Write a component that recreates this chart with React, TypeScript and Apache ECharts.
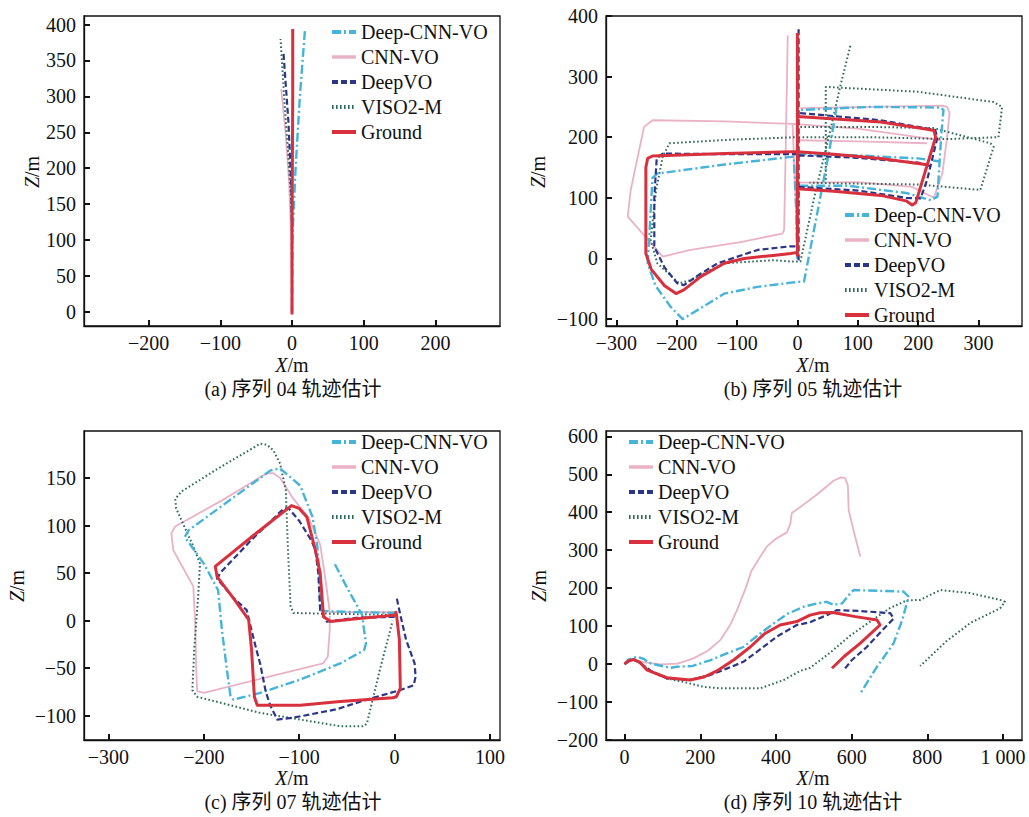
import React, { useEffect, useRef } from 'react';
import * as echarts from 'echarts';

type Pt = [number, number];
type Seg = Pt[];

const SERIES_NAMES = ['Deep-CNN-VO', 'CNN-VO', 'DeepVO', 'VISO2-M', 'Ground'];
const CAPTIONS = ['(a) 序列 04 轨迹估计', '(b) 序列 05 轨迹估计', '(c) 序列 07 轨迹估计', '(d) 序列 10 轨迹估计'];

// tick values
const xTicks04 = [-200, -100, 0, 100, 200];
const yTicks04 = [0, 50, 100, 150, 200, 250, 300, 350, 400];
const xTicks05 = [-300, -200, -100, 0, 100, 200, 300];
const yTicks05 = [-100, 0, 100, 200, 300, 400];
const xTicks07 = [-300, -200, -100, 0, 100];
const yTicks07 = [-100, -50, 0, 50, 100, 150];
const xTicks10 = [0, 200, 400, 600, 800, 1000];
const yTicks10 = [-200, -100, 0, 100, 200, 300, 400, 500, 600];

// ---------- sequence 04 ----------
const deepCnn04: Seg[] = [[[0, 0], [0.5, 100], [2, 135], [5, 200], [11, 300], [18, 392]]];
const cnnVo04: Seg[] = [[[0, 0], [-1, 100], [-4, 180], [-9, 250], [-15, 310]]];
const deepVo04: Seg[] = [[[0, 0], [0, 110], [-1, 175], [-5, 265], [-12, 362]]];
const viso04: Seg[] = [[[0, 0], [0, 120], [-1, 150], [-6, 230], [-11, 300], [-16, 380]]];
const ground04: Seg[] = [[[0, -4], [0, 100], [0.5, 200], [1, 300], [1, 394]]];

// ---------- sequence 05 ----------
const deepCnn05: Seg[] = [
  [[0, 0], [-2, 80], [-6, 168], [-120, 155], [-232, 140], [-240, 133], [-244, 60], [-248, -8], [-235, -45], [-210, -80], [-190, -100], [-160, -82], [-121, -58], [-66, -47], [-11, -40], [11, -38], [30, 60], [52, 173], [65, 250]],
  [[3, 120], [83, 120], [180, 108], [221, 96], [232, 102], [238, 200], [242, 245], [237, 249], [120, 250], [5, 245]],
  [[0, 172], [100, 170], [200, 165], [236, 160]],
];
const cnnVo05: Seg[] = [
  [[0, 0], [-3, 100], [-8, 222], [-120, 226], [-240, 228], [-254, 217], [-276, 113], [-281, 69], [-223, 3], [-177, 14], [-94, 27], [-25, 41], [-22, 47], [-19, 200], [-16, 368]],
  [[-8, 222], [100, 214], [200, 200], [238, 195]],
  [[0, 125], [100, 126], [190, 118], [226, 100], [240, 140], [248, 200], [252, 240], [248, 250], [240, 252], [120, 250], [5, 248]],
  [[0, 195], [100, 193], [215, 190]],
];
const deepVo05: Seg[] = [
  [[2, -3], [2, 382]],
  [[1, 172], [-120, 172], [-223, 173], [-233, 165], [-237, 100], [-237, 19], [-220, -15], [-199, -41], [-188, -44], [-160, -25], [-132, -8], [-66, 14], [-11, 20], [0, 20]],
  [[2, 118], [100, 112], [180, 100], [204, 99], [215, 130], [232, 200], [228, 212], [138, 228], [2, 240]],
  [[2, 170], [100, 166], [200, 158], [224, 151]],
];
const viso05: Seg[] = [
  [[0, 0], [2, 100], [0, 200], [-110, 196], [-212, 190], [-223, 168], [-234, 113], [-243, 30], [-232, -8], [-196, -41], [-177, -36], [-121, -8], [-39, -3], [-11, -5], [5, -5], [30, 110], [52, 200], [70, 280], [88, 352]],
  [[47, 130], [47, 283], [200, 275], [325, 258], [339, 250], [333, 200], [250, 197], [120, 200], [0, 200]],
  [[5, 217], [120, 217], [225, 215], [320, 190], [325, 184], [303, 113], [200, 122], [60, 124], [20, 125]],
];
const ground05: Seg[] = [
  [[0, 3], [0, 372]],
  [[0, 176], [-11, 176], [-120, 173], [-240, 169], [-248, 165], [-251, 150], [-251, 8], [-242, -18], [-220, -45], [-201, -58], [-188, -52], [-160, -30], [-121, -8], [-88, 0], [-40, 5], [-11, 8], [0, 10]],
  [[0, 115], [60, 111], [138, 104], [180, 95], [190, 88], [196, 92], [229, 200], [226, 211], [215, 213], [138, 225], [0, 234]],
  [[0, 176], [60, 172], [138, 165], [218, 154]],
];

// ---------- sequence 07 ----------
const deepCnn07: Seg[] = [[[2, 8], [-40, 9], [-74, 10], [-78, 11], [-79, 50], [-81, 78], [-86, 109], [-99, 142], [-120, 160], [-130, 158], [-175, 125], [-216, 95], [-220, 88], [-200, 60], [-185, 32], [-181, -10], [-176, -50], [-172, -80], [-169, -83], [-141, -76], [-99, -62], [-57, -45], [-32, -31], [-30, -24], [-32, -10], [-34, 6], [-50, 35], [-64, 62]]];
const cnnVo07: Seg[] = [[[2, 9], [-40, 9], [-68, 9], [-72, 40], [-78, 80], [-90, 108], [-106, 128], [-120, 150], [-127, 155], [-134, 155], [-180, 127], [-230, 99], [-234, 92], [-232, 74], [-211, 36], [-209, -3], [-208, -50], [-207, -74], [-200, -76], [-140, -61], [-75, -45], [-70, -38], [-68, -10], [-68, 5]]];
const deepVo07: Seg[] = [[[0, 4], [-40, 3], [-71, -1], [-78, 11], [-80, 50], [-83, 74], [-87, 84], [-100, 105], [-111, 118], [-116, 118], [-150, 85], [-183, 50], [-186, 44], [-170, 25], [-155, 11], [-151, -6], [-145, -30], [-141, -45], [-135, -75], [-130, -90], [-123, -104], [-106, -102], [-60, -93], [-29, -83], [6, -73], [20, -68], [22, -59], [21, -45], [12, -20], [6, 6], [2, 25]]];
const viso07: Seg[] = [[[0, 6], [-50, 7], [-106, 8], [-109, 15], [-112, 80], [-114, 137], [-120, 165], [-127, 179], [-134, 185], [-141, 186], [-185, 160], [-223, 136], [-230, 128], [-229, 118], [-211, 78], [-204, 60], [-206, 25], [-210, -30], [-212, -73], [-207, -80], [-141, -97], [-57, -111], [-32, -111], [-29, -108], [-15, -50], [-2, 0]]];
const ground07: Seg[] = [[[2, 6], [-40, 2], [-67, -1], [-74.5, 4], [-78, 50], [-83, 74], [-92, 109], [-100, 118], [-108, 121], [-150, 88], [-188, 57], [-186, 46], [-170, 25], [-153, 1], [-150, -30], [-147, -80], [-144, -89], [-99, -89], [-57, -85], [-2, -81], [2, -80], [6, -71], [5, -20], [2, 6], [1, 10]]];

// ---------- sequence 10 ----------
const deepCnn10: Seg[] = [[[0, 0], [10, 12], [33, 19], [50, 14], [68, 2], [120, -10], [138, -7], [180, -5], [226, 10], [270, 28], [314, 45], [355, 78], [394, 107], [430, 132], [473, 151], [510, 160], [534, 164], [552, 156], [575, 160], [596, 186], [605, 195], [670, 193], [737, 191], [750, 178], [735, 120], [711, 55], [665, -10], [623, -77]]];
const cnnVo10: Seg[] = [[[0, 0], [20, 12], [50, 5], [94, -1], [140, 1], [182, 15], [220, 35], [253, 63], [280, 105], [297, 142], [320, 200], [335, 245], [358, 282], [376, 310], [400, 330], [429, 347], [438, 370], [442, 398], [470, 418], [510, 448], [552, 483], [572, 492], [583, 490], [590, 470], [592, 406], [608, 340], [623, 283]]];
const deepVo10: Seg[] = [[[0, 0], [10, 8], [24, 12], [45, 0], [70, -18], [112, -38], [173, -42], [226, -29], [270, -12], [314, 6], [360, 40], [402, 72], [455, 103], [490, 110], [508, 118], [537, 130], [560, 142], [620, 140], [702, 134], [711, 120], [680, 88], [640, 45], [600, 10], [579, -16]]];
const viso10: Seg[] = [[[0, 0], [10, 8], [24, 12], [45, 0], [70, -20], [112, -38], [156, -47], [209, -60], [253, -64], [314, -64], [358, -64], [420, -42], [464, -18], [490, -10], [543, 30], [596, 75], [649, 112], [702, 148], [746, 168], [781, 169], [834, 195], [913, 187], [992, 169], [1005, 164], [992, 147], [913, 108], [878, 81], [850, 60], [781, -5]]];
const ground10: Seg[] = [[[0, 0], [10, 8], [24, 12], [40, 5], [60, -16], [112, -36], [173, -42], [210, -34], [244, -18], [290, 12], [332, 45], [370, 80], [411, 103], [455, 112], [490, 129], [517, 135], [550, 136], [610, 125], [667, 116], [675, 103], [623, 55], [580, 20], [548, -11]]];

// ---------- layout / style (not data) ----------
const SERIF = "'Liberation Serif', 'Times New Roman', 'Noto Sans CJK SC', serif";
const STYLES: Record<string, any> = {
  'Deep-CNN-VO': { color: '#46b4d8', width: 2.4, type: [9, 3, 2, 3] },
  'CNN-VO': { color: '#eab2c6', width: 1.8, type: 'solid' },
  'DeepVO': { color: '#2c3688', width: 2.2, type: [6, 3] },
  'VISO2-M': { color: '#2f6b59', width: 2, type: [1.6, 2.4] },
  'Ground': { color: '#d8303c', width: 3, type: 'solid' },
};
const DRAW_ORDER = ['CNN-VO', 'VISO2-M', 'Deep-CNN-VO', 'DeepVO', 'Ground'];

const PANELS = [
  {
    grid: { left: 84, top: 16, width: 416, height: 310 },
    x: [-290, 290], y: [-20, 412], xt: xTicks04, yt: yTicks04,
    data: { 'Deep-CNN-VO': deepCnn04, 'CNN-VO': cnnVo04, 'DeepVO': deepVo04, 'VISO2-M': viso04, 'Ground': ground04 },
    legend: { left: 330, top: 22 }, zName: [32, 172], xName: [292, 365], cap: [293, 389],
  },
  {
    grid: { left: 606, top: 16, width: 416, height: 310 },
    x: [-317, 372], y: [-111.5, 400], xt: xTicks05, yt: yTicks05,
    data: { 'Deep-CNN-VO': deepCnn05, 'CNN-VO': cnnVo05, 'DeepVO': deepVo05, 'VISO2-M': viso05, 'Ground': ground05 },
    legend: { left: 843, top: 205 }, zName: [538, 172], xName: [813, 365], cap: [813, 389],
  },
  {
    grid: { left: 84, top: 431, width: 416, height: 309 },
    x: [-325.6, 110.5], y: [-125.5, 199.4], xt: xTicks07, yt: yTicks07,
    data: { 'Deep-CNN-VO': deepCnn07, 'CNN-VO': cnnVo07, 'DeepVO': deepVo07, 'VISO2-M': viso07, 'Ground': ground07 },
    legend: { left: 330, top: 432 }, zName: [17, 586], xName: [292, 778], cap: [293, 802],
  },
  {
    grid: { left: 606, top: 431, width: 416, height: 309 },
    x: [-49, 1050], y: [-200, 614], xt: xTicks10, yt: yTicks10,
    data: { 'Deep-CNN-VO': deepCnn10, 'CNN-VO': cnnVo10, 'DeepVO': deepVo10, 'VISO2-M': viso10, 'Ground': ground10 },
    legend: { left: 627, top: 432 }, zName: [539, 586], xName: [813, 778], cap: [813, 802],
  },
];

const fmt = (v: number) => (v === 1000 ? '1 000' : v < 0 ? '\u2212' + Math.abs(v) : String(v));

const flat = (segs: Seg[]) => {
  const out: any[] = [];
  segs.forEach((s, i) => {
    if (i > 0) out.push(['-', '-']);
    s.forEach((p) => out.push([p[0], p[1]]));
  });
  return out;
};

function buildOption() {
  const grid: any[] = [];
  const xAxis: any[] = [];
  const yAxis: any[] = [];
  const series: any[] = [];
  const legend: any[] = [];
  const graphic: any[] = [];
  const labelStyle = { fontFamily: SERIF, fontSize: 20, color: '#111' };
  const tick = (vals: number[]) => ({
    show: true, inside: true, length: 6, customValues: vals, lineStyle: { color: '#111', width: 2 },
  });

  PANELS.forEach((p, i) => {
    grid.push({ ...p.grid, show: true, borderColor: '#111', borderWidth: 1.3, backgroundColor: 'transparent' });
    xAxis.push({
      type: 'value', gridIndex: i, min: p.x[0], max: p.x[1], position: 'bottom',
      axisLine: { show: true, onZero: false, lineStyle: { color: '#111', width: 1.3 } }, splitLine: { show: false },
      axisTick: tick(p.xt),
      axisLabel: { ...labelStyle, margin: 7, customValues: p.xt, formatter: fmt },
    });
    yAxis.push({
      type: 'value', gridIndex: i, min: p.y[0], max: p.y[1], position: 'left',
      axisLine: { show: true, onZero: false, lineStyle: { color: '#111', width: 1.3 } }, splitLine: { show: false },
      axisTick: tick(p.yt),
      axisLabel: { ...labelStyle, margin: 8, customValues: p.yt, formatter: fmt },
    });
    DRAW_ORDER.forEach((name) => {
      const st = STYLES[name];
      series.push({
        type: 'line', name, xAxisIndex: i, yAxisIndex: i,
        data: flat((p.data as any)[name]),
        symbol: 'none', showSymbol: false, connectNulls: false, smooth: false,
        lineStyle: { color: st.color, width: st.width, type: st.type, cap: 'butt', join: 'round' },
        itemStyle: { color: st.color },
        emphasis: { disabled: true },
      });
    });
    legend.push({
      orient: 'vertical', left: p.legend.left, top: p.legend.top, padding: 0,
      itemWidth: 24, itemHeight: 10, itemGap: 5, selectedMode: false,
      itemStyle: { opacity: 0, color: 'transparent', borderWidth: 0 },
      textStyle: { fontFamily: SERIF, fontSize: 20, color: '#111', lineHeight: 20 },
      data: SERIES_NAMES.map((n) => ({
        name: n,
        itemStyle: { opacity: 0, color: 'transparent', borderWidth: 0 },
        lineStyle: { width: n === 'CNN-VO' ? 3.5 : 4, color: STYLES[n].color, type: STYLES[n].type, opacity: 1 },
      })),
    });
    graphic.push({
      type: 'text', x: p.zName[0], y: p.zName[1], rotation: Math.PI / 2,
      style: {
        text: '{i|Z}/m', fill: '#111', fontFamily: SERIF, fontSize: 20, align: 'center', verticalAlign: 'middle',
        rich: { i: { fontStyle: 'italic', fontFamily: SERIF, fontSize: 20, fill: '#111' } },
      },
    });
    graphic.push({
      type: 'text', x: p.xName[0], y: p.xName[1],
      style: {
        text: '{i|X}/m', fill: '#111', fontFamily: SERIF, fontSize: 20, align: 'center', verticalAlign: 'middle',
        rich: { i: { fontStyle: 'italic', fontFamily: SERIF, fontSize: 20, fill: '#111' } },
      },
    });
    graphic.push({
      type: 'text', x: p.cap[0], y: p.cap[1],
      style: { text: CAPTIONS[i], fill: '#111', fontFamily: SERIF, fontSize: 20, align: 'center', verticalAlign: 'middle' },
    });
  });

  return {
    animation: false,
    backgroundColor: '#ffffff',
    grid, xAxis, yAxis, series, legend, graphic,
  };
}

export default function App() {
  const ref = useRef<HTMLDivElement>(null);
  useEffect(() => {
    if (!ref.current) return;
    const chart = echarts.init(ref.current, undefined, { renderer: 'svg' });
    chart.setOption(buildOption() as any);
    return () => chart.dispose();
  }, []);
  return (
    <div
      ref={ref}
      style={{ position: 'fixed', left: 0, top: 0, width: 1029, height: 817, background: '#fff' }}
    />
  );
}
